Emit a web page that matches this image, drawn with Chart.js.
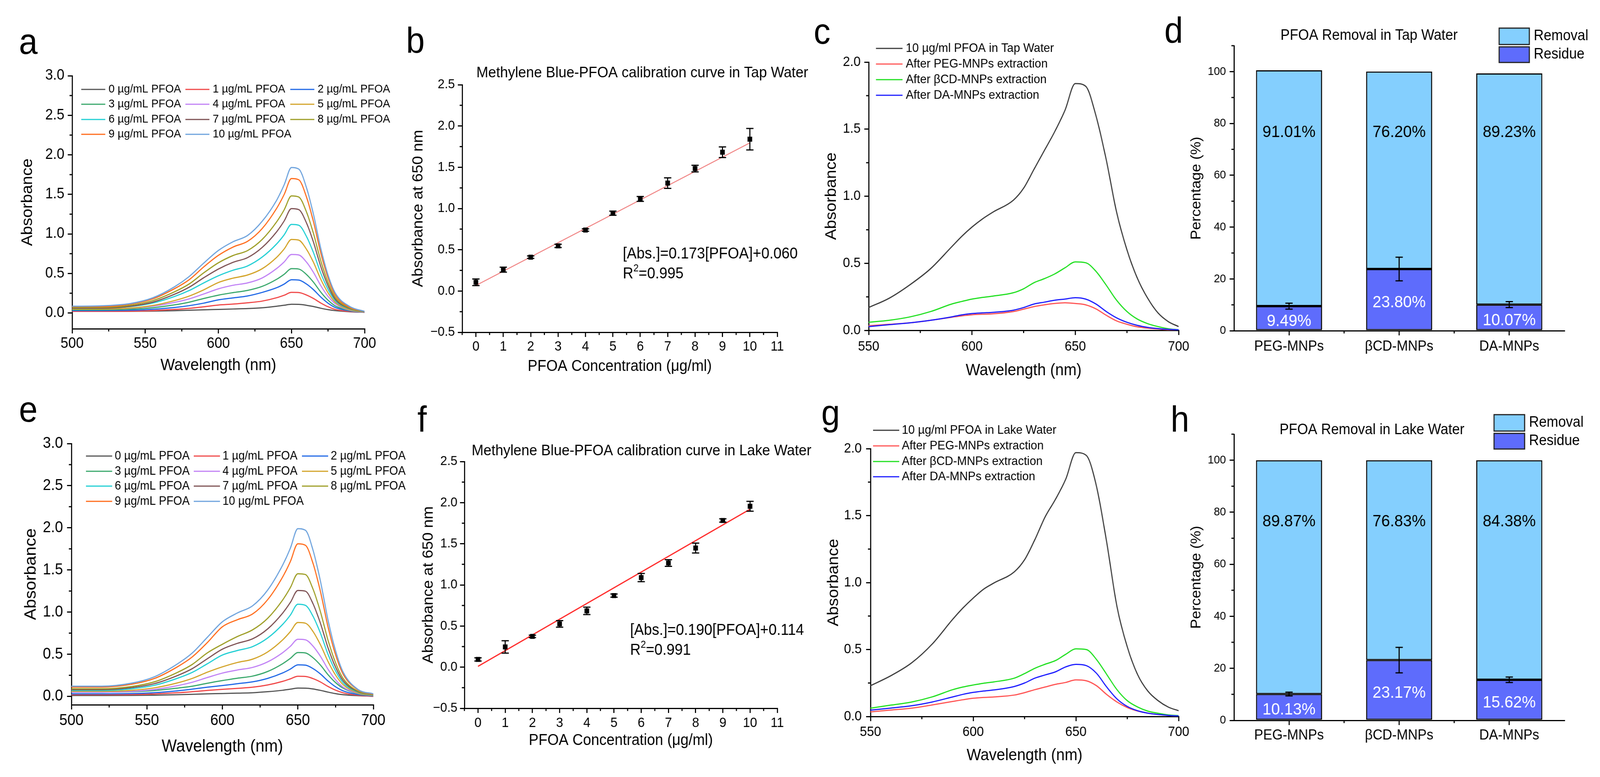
<!DOCTYPE html>
<html><head><meta charset="utf-8"><title>PFOA removal figure</title>
<script src="https://cdn.jsdelivr.net/npm/chart.js@4.4.1/dist/chart.umd.min.js"></script>
<style>
html,body{margin:0;padding:0;background:#fff;overflow:hidden;}
body{font-family:'Liberation Sans',Arial,Helvetica,sans-serif;}
#wrap{position:absolute;left:0;top:0;width:4393px;height:1990px;transform-origin:0 0;background:#fff;}
canvas{position:absolute;}
.plab{position:absolute;font-size:92px;line-height:92px;color:#000;}
</style></head><body>
<div id="wrap">
<div class="plab" style="left:52px;top:60px">a</div>
<div class="plab" style="left:1115px;top:57px">b</div>
<div class="plab" style="left:2234px;top:34px">c</div>
<div class="plab" style="left:3197px;top:31px">d</div>
<div class="plab" style="left:52px;top:1002px">e</div>
<div class="plab" style="left:1146px;top:1027px">f</div>
<div class="plab" style="left:2255px;top:1011px">g</div>
<div class="plab" style="left:3214px;top:1027px">h</div>
</div>
<script>
// ---------------- DATA ----------------
const wlSpec = [500,520,540,555,570,580,590,600,610,620,630,640,645,650,655,660,665,670,675,680,690,700];
const concLabels = ['0 µg/mL PFOA','1 µg/mL PFOA','2 µg/mL PFOA','3 µg/mL PFOA','4 µg/mL PFOA','5 µg/mL PFOA','6 µg/mL PFOA','7 µg/mL PFOA','8 µg/mL PFOA','9 µg/mL PFOA','10 µg/mL PFOA'];
const specColors = ['#555555','#F04848','#2068E6','#3AA86C','#C182F5','#D3A42A','#22CFD4','#7E5254','#9E9E26','#FF6C1C','#6EA3DD'];

const tap0  = [0.020,0.020,0.021,0.024,0.029,0.034,0.040,0.045,0.050,0.055,0.065,0.085,0.097,0.110,0.109,0.098,0.081,0.060,0.042,0.029,0.015,0.010];
const tap1  = [0.020,0.020,0.022,0.030,0.044,0.058,0.078,0.100,0.112,0.128,0.150,0.193,0.224,0.260,0.258,0.229,0.183,0.126,0.078,0.044,0.018,0.008];
const tap2  = [0.030,0.030,0.034,0.046,0.069,0.092,0.124,0.165,0.190,0.215,0.260,0.320,0.365,0.420,0.416,0.369,0.295,0.202,0.124,0.069,0.025,0.008];
const tap3  = [0.040,0.040,0.048,0.066,0.102,0.136,0.183,0.225,0.257,0.285,0.336,0.427,0.489,0.560,0.555,0.491,0.390,0.264,0.161,0.089,0.030,0.010];
const tap4  = [0.050,0.050,0.060,0.085,0.133,0.178,0.240,0.305,0.350,0.380,0.443,0.564,0.645,0.740,0.733,0.649,0.514,0.347,0.210,0.116,0.035,0.010];
const tap5  = [0.050,0.050,0.063,0.094,0.156,0.213,0.292,0.385,0.440,0.480,0.560,0.706,0.809,0.930,0.921,0.813,0.642,0.428,0.255,0.134,0.040,0.012];
const tap6  = [0.060,0.060,0.081,0.124,0.208,0.283,0.380,0.470,0.540,0.595,0.707,0.876,0.988,1.120,1.109,0.977,0.765,0.505,0.299,0.155,0.050,0.015];
const tap7  = [0.060,0.060,0.085,0.136,0.236,0.325,0.445,0.555,0.640,0.700,0.829,1.030,1.163,1.320,1.307,1.150,0.898,0.589,0.344,0.173,0.055,0.015];
const tap8  = [0.070,0.070,0.098,0.155,0.267,0.366,0.507,0.634,0.726,0.789,0.930,1.156,1.304,1.480,1.466,1.290,1.008,0.662,0.387,0.197,0.060,0.018];
const tap9  = [0.080,0.080,0.112,0.177,0.307,0.420,0.582,0.728,0.833,0.906,1.068,1.327,1.498,1.700,1.684,1.481,1.157,0.760,0.445,0.226,0.070,0.020];
const tap10 = [0.085,0.090,0.120,0.190,0.330,0.460,0.630,0.790,0.900,0.980,1.160,1.430,1.620,1.840,1.820,1.600,1.250,0.820,0.480,0.250,0.080,0.020];

const lake0  = [0.010,0.010,0.011,0.014,0.019,0.024,0.030,0.033,0.038,0.043,0.055,0.072,0.085,0.098,0.097,0.088,0.071,0.050,0.032,0.019,0.008,0.003];
const lake1  = [0.020,0.020,0.022,0.029,0.042,0.055,0.070,0.083,0.095,0.108,0.135,0.178,0.207,0.238,0.236,0.211,0.170,0.117,0.073,0.042,0.012,0.000];
const lake2  = [0.030,0.030,0.033,0.044,0.065,0.085,0.108,0.128,0.150,0.172,0.213,0.278,0.323,0.374,0.370,0.330,0.265,0.182,0.113,0.065,0.020,0.005];
const lake3  = [0.050,0.050,0.055,0.069,0.097,0.120,0.155,0.187,0.215,0.240,0.295,0.388,0.450,0.520,0.515,0.459,0.370,0.257,0.163,0.097,0.030,0.008];
const lake4  = [0.050,0.050,0.059,0.082,0.126,0.167,0.223,0.276,0.313,0.343,0.409,0.519,0.593,0.677,0.671,0.597,0.474,0.321,0.196,0.110,0.035,0.010];
const lake5  = [0.060,0.060,0.072,0.101,0.158,0.212,0.286,0.350,0.402,0.441,0.527,0.671,0.767,0.876,0.868,0.771,0.611,0.413,0.251,0.138,0.040,0.012];
const lake6  = [0.070,0.070,0.090,0.131,0.213,0.284,0.386,0.490,0.544,0.590,0.692,0.855,0.963,1.093,1.080,0.952,0.748,0.498,0.300,0.162,0.050,0.015];
const lake7  = [0.080,0.080,0.104,0.151,0.245,0.328,0.446,0.560,0.629,0.682,0.800,0.989,1.113,1.256,1.248,1.101,0.865,0.576,0.346,0.186,0.055,0.018];
const lake8  = [0.090,0.090,0.117,0.172,0.282,0.378,0.515,0.618,0.710,0.789,0.926,1.145,1.289,1.455,1.446,1.275,1.001,0.665,0.398,0.213,0.060,0.020];
const lake9  = [0.110,0.110,0.144,0.212,0.348,0.467,0.637,0.826,0.910,0.977,1.147,1.419,1.598,1.810,1.793,1.581,1.241,0.824,0.493,0.263,0.075,0.025];
const lake10 = [0.120,0.120,0.157,0.232,0.382,0.513,0.700,0.885,0.990,1.074,1.261,1.560,1.756,1.990,1.971,1.738,1.364,0.905,0.541,0.288,0.080,0.030];

const wlExt = [550,560,570,580,590,595,600,605,610,620,625,630,635,640,645,650,655,660,665,670,675,680,685,690,695,700];
const extColors = ['#3C3C3C','#FF5555','#22E022','#1E1EFF'];
const tapExtLabels = ['10 µg/ml PFOA in Tap Water','After PEG-MNPs extraction','After βCD-MNPs extraction','After DA-MNPs extraction'];
const lakeExtLabels = ['10 µg/ml PFOA in Lake Water','After PEG-MNPs extraction','After βCD-MNPs extraction','After DA-MNPs extraction'];
const tapStock = [0.17,0.24,0.34,0.46,0.62,0.70,0.77,0.83,0.88,0.97,1.06,1.20,1.34,1.48,1.64,1.84,1.82,1.60,1.27,0.88,0.60,0.39,0.24,0.13,0.065,0.028];
const tapPEG   = [0.034,0.045,0.056,0.075,0.097,0.108,0.116,0.120,0.123,0.140,0.158,0.177,0.190,0.200,0.205,0.200,0.190,0.160,0.112,0.070,0.045,0.026,0.016,0.010,0.004,0.000];
const tapBCD   = [0.060,0.075,0.100,0.140,0.195,0.215,0.233,0.245,0.255,0.280,0.310,0.355,0.385,0.420,0.466,0.510,0.504,0.440,0.336,0.224,0.140,0.084,0.050,0.028,0.012,0.004];
const tapDA    = [0.028,0.042,0.056,0.075,0.100,0.115,0.125,0.130,0.134,0.150,0.170,0.196,0.210,0.224,0.233,0.243,0.233,0.196,0.140,0.093,0.060,0.037,0.022,0.013,0.007,0.004];
const lakeStock = [0.23,0.305,0.40,0.54,0.725,0.81,0.884,0.95,0.996,1.08,1.17,1.32,1.49,1.62,1.77,1.97,1.95,1.72,1.30,0.82,0.52,0.314,0.19,0.118,0.07,0.043];
const lakePEG   = [0.034,0.048,0.062,0.086,0.112,0.125,0.136,0.142,0.146,0.160,0.178,0.200,0.220,0.240,0.254,0.273,0.267,0.230,0.164,0.108,0.067,0.041,0.025,0.015,0.008,0.004];
const lakeBCD   = [0.062,0.085,0.108,0.146,0.200,0.220,0.235,0.248,0.258,0.286,0.320,0.360,0.390,0.417,0.464,0.505,0.500,0.426,0.314,0.200,0.118,0.071,0.040,0.024,0.012,0.006];
const lakeDA    = [0.047,0.063,0.080,0.108,0.146,0.165,0.180,0.190,0.198,0.224,0.250,0.286,0.310,0.333,0.370,0.389,0.380,0.323,0.220,0.131,0.075,0.043,0.025,0.015,0.008,0.004];

const calConc = [0,1,2,3,4,5,6,7,8,9,10];
const tapAbs  = [0.106,0.259,0.410,0.547,0.739,0.943,1.116,1.308,1.484,1.682,1.840];
const tapErr  = [0.040,0.030,0.015,0.020,0.015,0.025,0.030,0.064,0.040,0.065,0.130];
const lakeAbs = [0.094,0.246,0.374,0.526,0.684,0.870,1.089,1.266,1.448,1.783,1.956];
const lakeErr = [0.020,0.075,0.015,0.040,0.045,0.020,0.050,0.040,0.060,0.020,0.060];
const fitX    = [0,10];
const tapFit  = [0.067,1.795];
const lakeFit = [0.010,1.920];

const sorbents    = ['PEG-MNPs','βCD-MNPs','DA-MNPs'];
const tapRemoval  = [91.01,76.20,89.23];
const tapResidue  = [9.49,23.80,10.07];
const tapResErr   = [1.15,4.55,1.15];
const lakeRemoval = [89.87,76.83,84.38];
const lakeResidue = [10.13,23.17,15.62];
const lakeResErr  = [0.70,4.90,1.05];

// ---------------- FIT TO VIEWPORT ----------------
// The layout is designed on a 4393 x 1990 grid; it is mapped onto the actual viewport.
const PAGE_W = 4393, PAGE_H = 1990;
const wrap = document.getElementById('wrap');
const SX = window.innerWidth / PAGE_W, SY = window.innerHeight / PAGE_H;
if (Math.abs(SX - 1) > 0.001 || Math.abs(SY - 1) > 0.001) wrap.style.transform = 'scale(' + SX + ',' + SY + ')';
const DPR = Math.max(1, window.devicePixelRatio || 1);

// ---------------- HELPERS ----------------
const FAM = "'Liberation Sans', Arial, Helvetica, sans-serif";
Chart.defaults.font.family = FAM;
Chart.defaults.color = '#000';
const REM_COLOR = '#84CFFE';
const RES_COLOR = '#5E6CFC';

function pts(xs, ys){ return xs.map((x,i)=>({x:x, y:ys[i]})); }
function fmt1(v){ const s = Math.abs(v).toFixed(1); return v < -1e-9 ? '\u2212' + s : s; }
function fmt0(v){ return String(Math.round(v)); }

function axisCfg(o){
  const c = {
    type: o.type || 'linear',
    border: {display:true, color:'#000', width:3},
    grid: {display:true, drawOnChartArea:false, drawTicks:true, tickLength:12, color:'#000', lineWidth:3, offset:false},
    ticks: {autoSkip:false, maxRotation:0, minRotation:0, padding:o.pad, font:{size:o.fs}, color:'#000'},
    title: {display:!!o.title, text:o.title||'', font:{size:o.tfs||40, lineHeight:1}, padding:0, color:'#000'},
    afterFit: function(s){
      if (s.isHorizontal()) s.height = o.size; else s.width = o.size;
      s.paddingLeft = 0; s.paddingRight = 0; s.paddingTop = 0; s.paddingBottom = 0;
    }
  };
  if (o.min !== undefined) c.min = o.min;
  if (o.max !== undefined) c.max = o.max;
  if (o.step !== undefined) { c.ticks.stepSize = o.step; c.ticks.includeBounds = false; }
  if (o.fmt) c.ticks.callback = o.fmt;
  if (o.stacked) c.stacked = true;
  return c;
}

function minorTicks(chart, axisId, minor, major, len){
  const s = chart.scales[axisId], ctx = chart.ctx, ca = chart.chartArea;
  ctx.save(); ctx.strokeStyle = '#000'; ctx.lineWidth = 3; ctx.beginPath();
  if (minor === 'between') {
    for (let i = 0; i < s.ticks.length - 1; i++) {
      const px = (s.getPixelForTick(i) + s.getPixelForTick(i+1)) / 2;
      ctx.moveTo(px, ca.bottom); ctx.lineTo(px, ca.bottom + len);
    }
  } else {
    const k0 = Math.ceil(s.min/minor - 1e-9), k1 = Math.floor(s.max/minor + 1e-9);
    for (let k = k0; k <= k1; k++) {
      const v = k*minor, r = v/major;
      if (Math.abs(r - Math.round(r)) < 1e-6) continue;
      const px = s.getPixelForValue(v);
      if (s.isHorizontal()) { ctx.moveTo(px, ca.bottom); ctx.lineTo(px, ca.bottom + len); }
      else { ctx.moveTo(ca.left, px); ctx.lineTo(ca.left - len, px); }
    }
  }
  ctx.stroke(); ctx.restore();
}

function decor(p, X, Y){
  return {
    id: 'decor_' + p.name,
    afterDatasetsDraw(chart){
      const ctx = chart.ctx, ys = chart.scales.y;
      if (p.barLabels) {
        const bl = p.barLabels;
        ctx.save(); ctx.font = bl.fs + 'px ' + FAM; ctx.textAlign = 'center'; ctx.textBaseline = 'middle';
        const mRes = chart.getDatasetMeta(0), mRem = chart.getDatasetMeta(1);
        mRem.data.forEach((el,i)=>{ ctx.fillStyle = '#000'; ctx.fillText(chart.data.datasets[1].data[i].toFixed(2) + '%', el.x, ys.getPixelForValue(bl.remAt)); });
        mRes.data.forEach((el,i)=>{ ctx.fillStyle = '#fff'; ctx.fillText(chart.data.datasets[0].data[i].toFixed(2) + '%', el.x, (el.y + el.base)/2 + bl.resDy); });
        ctx.restore();
      }
      if (p.errors) {
        const e = p.errors, meta = chart.getDatasetMeta(e.ds);
        ctx.save(); ctx.strokeStyle = '#000'; ctx.lineWidth = 3;
        meta.data.forEach((el,i)=>{
          const err = e.values[i], v = ys.getValueForPixel(el.y);
          const y1 = ys.getPixelForValue(v + err), y2 = ys.getPixelForValue(v - err);
          ctx.beginPath();
          ctx.moveTo(el.x, y1); ctx.lineTo(el.x, y2);
          ctx.moveTo(el.x - e.cap, y1); ctx.lineTo(el.x + e.cap, y1);
          ctx.moveTo(el.x - e.cap, y2); ctx.lineTo(el.x + e.cap, y2);
          ctx.stroke();
        });
        ctx.restore();
      }
    },
    afterDraw(chart){
      const ctx = chart.ctx;
      if (p.minor) {
        if (p.minor.x) minorTicks(chart, 'x', p.minor.x, p.x.step, 7);
        if (p.minor.y) minorTicks(chart, 'y', p.minor.y, p.y.step, 7);
      }
      if (p.lineLegend) {
        const L = p.lineLegend;
        ctx.save(); ctx.font = L.fs + 'px ' + FAM; ctx.textBaseline = 'middle'; ctx.textAlign = 'left';
        chart.data.datasets.forEach((ds,i)=>{
          const r = Math.floor(i / L.cols), c = i % L.cols;
          const x0 = X(L.colX[c]), y = Y(L.rowY[r]);
          ctx.strokeStyle = ds.borderColor; ctx.lineWidth = 3;
          ctx.beginPath(); ctx.moveTo(x0, y); ctx.lineTo(x0 + L.len, y); ctx.stroke();
          ctx.fillStyle = '#000'; ctx.fillText(ds.label, x0 + L.tOff, y);
        });
        ctx.restore();
      }
      if (p.boxLegend) {
        const B = p.boxLegend;
        ctx.save(); ctx.font = B.fs + 'px ' + FAM; ctx.textBaseline = 'middle'; ctx.textAlign = 'left';
        B.items.forEach(it=>{
          const ds = chart.data.datasets[it.ds];
          const x = X(B.x1), y = Y(it.y1), w = B.x2 - B.x1, h = it.y2 - it.y1;
          ctx.fillStyle = ds.backgroundColor; ctx.fillRect(x, y, w, h);
          ctx.strokeStyle = '#222'; ctx.lineWidth = 3; ctx.strokeRect(x, y, w, h);
          ctx.fillStyle = '#000'; ctx.fillText(ds.label, X(B.tx), Y((it.y1 + it.y2)/2));
        });
        ctx.restore();
      }
      if (p.texts) {
        ctx.save(); ctx.textBaseline = 'middle'; ctx.fillStyle = '#000';
        p.texts.forEach(t=>{
          ctx.textAlign = t.align || 'left';
          if (t.parts) {
            let cx = X(t.x);
            ctx.textAlign = 'left';
            t.parts.forEach(pt=>{ ctx.font = pt[1] + 'px ' + FAM; ctx.fillText(pt[0], cx, Y(t.y) + pt[2]); cx += ctx.measureText(pt[0]).width; });
          } else {
            ctx.font = t.fs + 'px ' + FAM; ctx.fillText(t.t, X(t.x), Y(t.y));
          }
        });
        ctx.restore();
      }
    }
  };
}

function makePanel(p){
  const ox = Math.round(p.yTitleX - p.yTitleFs/2);
  const oy = p.rowTop;
  const bottom = (p.xTitleY !== undefined) ? Math.round(p.xTitleY + p.xTitleFs/2) : p.B + p.xh;
  const W = p.R + p.extra - ox, H = bottom - oy;
  p.y.size = p.L - ox; p.x.size = bottom - p.B;
  p.y.tfs = p.yTitleFs; p.x.tfs = p.xTitleFs;
  const tp = p.T - oy;
  const cv = document.createElement('canvas');
  cv.style.left = ox + 'px'; cv.style.top = oy + 'px'; cv.style.width = W + 'px'; cv.style.height = H + 'px';
  cv.width = W; cv.height = H;
  wrap.appendChild(cv);
  const X = v => v - ox, Y = v => v - oy;
  new Chart(cv.getContext('2d'), {
    type: p.type,
    data: {labels: p.labels, datasets: p.datasets},
    options: {
      responsive: false, devicePixelRatio: DPR, animation: false, events: [],
      layout: {padding: {left: 0, top: tp, right: p.extra, bottom: 0}},
      plugins: {legend: {display: false}, tooltip: {enabled: false}, title: {display: false}},
      scales: {x: axisCfg(p.x), y: axisCfg(p.y)}
    },
    plugins: [decor(p, X, Y)]
  });
}

function specSets(series){
  return series.map((arr,i)=>({label: concLabels[i], data: pts(wlSpec, arr), borderColor: specColors[i], borderWidth: 3,
    pointRadius: 0, cubicInterpolationMode: 'monotone', fill: false, order: -i}));
}
function extSets(series, labels){
  return series.map((arr,i)=>({label: labels[i], data: pts(wlExt, arr), borderColor: extColors[i], borderWidth: 3,
    pointRadius: 0, cubicInterpolationMode: 'monotone', fill: false, order: i === 0 ? 0 : -i}));
}
function calSets(abs, fit, lineColor, lineW){
  return [
    {label: 'data', data: pts(calConc, abs), showLine: false, pointStyle: 'rect', pointRadius: 9, backgroundColor: '#000', borderColor: '#000', borderWidth: 0, order: 0},
    {label: 'fit', data: pts(fitX, fit), borderColor: lineColor, borderWidth: lineW, pointRadius: 0, fill: false, order: 1}
  ];
}
function barSets(residue, removal){
  return [
    {label: 'Residue', data: residue, backgroundColor: RES_COLOR, borderColor: '#000', borderWidth: 3, borderSkipped: false, barPercentage: 0.6, categoryPercentage: 1},
    {label: 'Removal', data: removal, backgroundColor: REM_COLOR, borderColor: '#000', borderWidth: 3, borderSkipped: false, barPercentage: 0.6, categoryPercentage: 1}
  ];
}

// ---------------- PANELS ----------------
makePanel({name:'a', type:'line', rowTop:0, L:198, R:1001, T:194, B:842, extra:100,
  yTitleX:76, yTitleFs:42, xTitleY:936, xTitleFs:42,
  x:{min:500, max:700, step:50, fs:38, pad:4, title:'Wavelength (nm)'},
  y:{min:-0.2, max:3.0, step:0.5, fs:38, pad:9, fmt:fmt1, title:'Absorbance'},
  minor:{x:25, y:0.25},
  datasets: specSets([tap0,tap1,tap2,tap3,tap4,tap5,tap6,tap7,tap8,tap9,tap10]),
  lineLegend:{fs:30, cols:3, colX:[223,509,797], rowY:[229,267,306,344], len:66, tOff:75}
});
makePanel({name:'b', type:'line', rowTop:0, L:1269, R:2134, T:217, B:851, extra:120,
  yTitleX:1149, yTitleFs:40, xTitleY:939, xTitleFs:40,
  x:{min:-0.5, max:11, step:1, fs:35, pad:4, fmt:fmt0, title:'PFOA Concentration (\u03bcg/ml)'},
  y:{min:-0.5, max:2.5, step:0.5, fs:34, pad:8, fmt:fmt1, title:'Absorbance at 650 nm'},
  minor:{x:0.5, y:0.25},
  datasets: calSets(tapAbs, tapFit, '#F08484', 2.5),
  errors:{ds:0, values:tapErr, cap:10},
  texts:[
    {t:'Methylene Blue-PFOA calibration curve in Tap Water', x:1308, y:187, fs:39},
    {t:'[Abs.]=0.173[PFOA]+0.060', x:1710, y:651, fs:40},
    {parts:[['R',40,0],['2',26,-14],['=0.995',40,0]], x:1710, y:702}
  ]
});
makePanel({name:'c', type:'line', rowTop:0, L:2385, R:3236, T:159, B:846, extra:50,
  yTitleX:2283, yTitleFs:42, xTitleY:949, xTitleFs:42,
  x:{min:550, max:700, step:50, fs:35, pad:9, title:'Wavelength (nm)'},
  y:{min:0, max:2.0, step:0.5, fs:35, pad:10, fmt:fmt1, title:'Absorbance'},
  minor:{x:25, y:0.25},
  datasets: extSets([tapStock,tapPEG,tapBCD,tapDA], tapExtLabels),
  lineLegend:{fs:32, cols:1, colX:[2405], rowY:[124,164,204,244], len:73, tOff:82}
});
makePanel({name:'d', type:'bar', rowTop:0, L:3388, R:4295, T:117, B:847, xh:90, extra:90,
  yTitleX:3286, yTitleFs:38,
  labels: sorbents,
  x:{type:'category', fs:37, pad:7, stacked:true},
  y:{min:0, max:110, step:20, fs:30, pad:10, fmt:fmt0, stacked:true, title:'Percentage (%)'},
  minor:{x:'between', y:10},
  datasets: barSets(tapResidue, tapRemoval),
  barLabels:{fs:43, remAt:76.5, resDy:8},
  errors:{ds:0, values:tapResErr, cap:10},
  boxLegend:{fs:38, x1:4116, x2:4199, tx:4211, items:[{ds:1, y1:72, y2:114},{ds:0, y1:120, y2:160}]},
  texts:[{t:'PFOA Removal in Tap Water', x:3759, y:92, fs:38, align:'center'}]
});
makePanel({name:'e', type:'line', rowTop:995, L:196, R:1025, T:1136, B:1805, extra:95,
  yTitleX:86, yTitleFs:44, xTitleY:1913, xTitleFs:44,
  x:{min:500, max:700, step:50, fs:40, pad:5, title:'Wavelength (nm)'},
  y:{min:-0.1, max:3.0, step:0.5, fs:40, pad:11, fmt:fmt1, title:'Absorbance'},
  minor:{x:25, y:0.25},
  datasets: specSets([lake0,lake1,lake2,lake3,lake4,lake5,lake6,lake7,lake8,lake9,lake10]),
  lineLegend:{fs:31, cols:3, colX:[236,532,829], rowY:[1168,1207,1245,1284], len:72, tOff:79}
});
makePanel({name:'f', type:'line', rowTop:995, L:1275, R:2134, T:1182, B:1814, extra:120,
  yTitleX:1177, yTitleFs:40, xTitleY:1897, xTitleFs:40,
  x:{min:-0.5, max:11, step:1, fs:35, pad:5, fmt:fmt0, title:'PFOA Concentration (\u03bcg/ml)'},
  y:{min:-0.5, max:2.5, step:0.5, fs:34, pad:7, fmt:fmt1, title:'Absorbance at 650 nm'},
  minor:{x:0.5, y:0.25},
  datasets: calSets(lakeAbs, lakeFit, '#FF2A2A', 3),
  errors:{ds:0, values:lakeErr, cap:10},
  texts:[
    {t:'Methylene Blue-PFOA calibration curve in Lake Water', x:1295, y:1155, fs:39},
    {t:'[Abs.]=0.190[PFOA]+0.114', x:1730, y:1615, fs:40},
    {parts:[['R',40,0],['2',26,-14],['=0.991',40,0]], x:1730, y:1666}
  ]
});
makePanel({name:'g', type:'line', rowTop:995, L:2390, R:3236, T:1149, B:1835, extra:50,
  yTitleX:2289, yTitleFs:42, xTitleY:1935, xTitleFs:42,
  x:{min:550, max:700, step:50, fs:35, pad:7, title:'Wavelength (nm)'},
  y:{min:0, max:2.0, step:0.5, fs:35, pad:12, fmt:fmt1, title:'Absorbance'},
  minor:{x:25, y:0.25},
  datasets: extSets([lakeStock,lakePEG,lakeBCD,lakeDA], lakeExtLabels),
  lineLegend:{fs:32, cols:1, colX:[2397], rowY:[1102,1142,1182,1221], len:72, tOff:79}
});
makePanel({name:'h', type:'bar', rowTop:995, L:3388, R:4295, T:1112, B:1845, xh:90, extra:90,
  yTitleX:3286, yTitleFs:38,
  labels: sorbents,
  x:{type:'category', fs:37, pad:5, stacked:true},
  y:{min:0, max:110, step:20, fs:30, pad:10, fmt:fmt0, stacked:true, title:'Percentage (%)'},
  minor:{x:'between', y:10},
  datasets: barSets(lakeResidue, lakeRemoval),
  barLabels:{fs:43, remAt:76.4, resDy:8},
  errors:{ds:0, values:lakeResErr, cap:10},
  boxLegend:{fs:38, x1:4102, x2:4186, tx:4198, items:[{ds:1, y1:1062, y2:1104},{ds:0, y1:1110, y2:1150}]},
  texts:[{t:'PFOA Removal in Lake Water', x:3767, y:1102, fs:38, align:'center'}]
});
</script>
</body></html>
